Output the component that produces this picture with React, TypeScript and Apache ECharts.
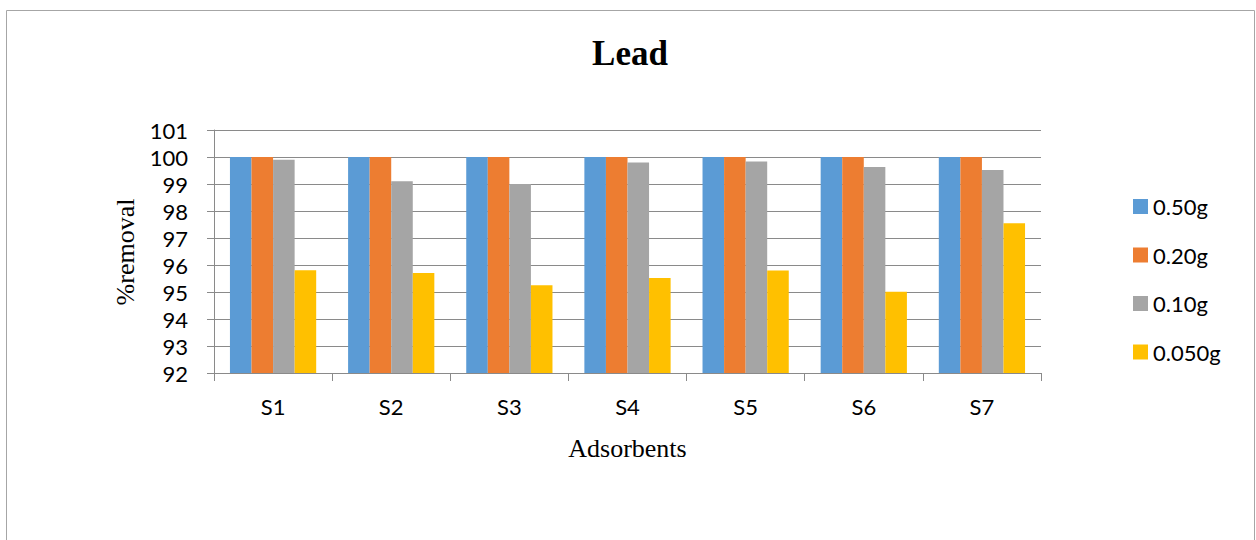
import React, { useEffect, useRef } from "react";
import * as echarts from "echarts";

// Adsorbent samples along the x axis
const categories = ["S1", "S2", "S3", "S4", "S5", "S6", "S7"];

// Percentage of lead removed for each adsorbent dose
const dose050 = [100, 100, 100, 100, 100, 100, 100];
const dose020 = [100, 100, 100, 100, 100, 100, 100];
const dose010 = [99.9, 99.1, 99.0, 99.8, 99.83, 99.63, 99.52];
const dose0050 = [95.81, 95.7, 95.25, 95.52, 95.8, 95.01, 97.55];

const seriesNames = ["0.50g", "0.20g", "0.10g", "0.050g"];
const seriesColors = ["#5B9BD5", "#ED7D31", "#A5A5A5", "#FFC000"];

const yMin = 92;
const yMax = 101;
const yStep = 1;

const sans = "Lato, 'Open Sans', sans-serif";
const serif = "'Liberation Serif', 'DejaVu Serif', serif";

export default function App() {
  const ref = useRef<HTMLDivElement>(null);

  useEffect(() => {
    document.body.style.margin = "0";
    if (!ref.current) return;
    const chart = echarts.init(ref.current, undefined, { renderer: "svg" });
    const values = [dose050, dose020, dose010, dose0050];

    chart.setOption({
      animation: false,
      backgroundColor: "#ffffff",
      grid: { left: 214, right: 215, top: 130, bottom: 167, containLabel: false },
      legend: {
        orient: "vertical",
        left: 1133,
        top: 195.5,
        padding: 0,
        itemWidth: 15,
        itemHeight: 15,
        itemGap: 26.5,
        icon: "rect",
        data: seriesNames,
        textStyle: { fontFamily: sans, fontSize: 22, color: "#000" },
      },
      xAxis: {
        type: "category",
        data: categories,
        axisLine: { show: true, lineStyle: { color: "#8a8a8a", width: 1 } },
        axisTick: { show: true, length: 8, inside: false, lineStyle: { color: "#8a8a8a" } },
        axisLabel: { fontFamily: sans, fontSize: 22, color: "#000", margin: 22 },
        splitLine: { show: false },
      },
      yAxis: {
        type: "value",
        min: yMin,
        max: yMax,
        interval: yStep,
        axisLine: { show: true, lineStyle: { color: "#8a8a8a", width: 1 } },
        axisTick: { show: true, length: 7, inside: false, lineStyle: { color: "#8a8a8a" } },
        axisLabel: { fontFamily: sans, fontSize: 22, lineHeight: 18, color: "#000", margin: 26 },
        splitLine: { show: true, lineStyle: { color: "#8a8a8a", width: 1 } },
      },
      series: seriesNames.map((name, i) => ({
        name,
        type: "bar",
        data: values[i],
        barGap: "0%",
        barCategoryGap: "27%",
        itemStyle: { color: seriesColors[i] },
      })),
      graphic: [
        {
          type: "rect",
          shape: { x: 6.5, y: 10.5, width: 1248, height: 600 },
          style: { fill: "none", stroke: "#a6a6a6", lineWidth: 1 },
          silent: true,
        },
        {
          type: "text",
          x: 630,
          y: 53,
          style: {
            text: "Lead",
            fontFamily: serif,
            fontWeight: "bold",
            fontSize: 35,
            fill: "#000",
            align: "center",
            verticalAlign: "middle",
          },
        },
        {
          type: "text",
          x: 627.5,
          y: 448,
          style: {
            text: "Adsorbents",
            fontFamily: serif,
            fontSize: 26,
            fill: "#000",
            align: "center",
            verticalAlign: "middle",
          },
        },
        {
          type: "text",
          x: 125.5,
          y: 252,
          rotation: Math.PI / 2,
          style: {
            text: "%removal",
            fontFamily: serif,
            fontSize: 26,
            fill: "#000",
            align: "center",
            verticalAlign: "middle",
          },
        },
      ],
    });

    return () => chart.dispose();
  }, []);

  return <div ref={ref} style={{ width: 1256, height: 540 }} />;
}
